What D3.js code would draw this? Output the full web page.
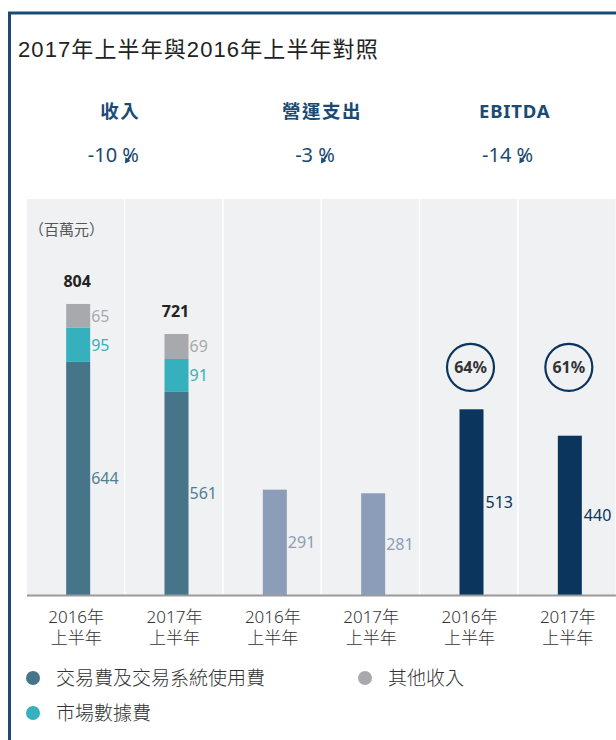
<!DOCTYPE html>
<html>
<head>
<meta charset="utf-8">
<script src="https://cdn.jsdelivr.net/npm/d3@7/dist/d3.min.js"></script>
<style>
html,body{margin:0;padding:0;background:#fff;}
svg{display:block;font-family:"Noto Sans","Noto Sans CJK TC",sans-serif;}
</style>
</head>
<body>
<div id="chart"></div>
<script>
// ---- data ----
const title = "2017年上半年與2016年上半年對照";
const groups = ["收入", "營運支出", "EBITDA"];
const changes = ["-10", "-3", "-14"];
const periods = ["2016年", "2017年"];
const periodSub = "上半年";
const tradingFees = [644, 561];
const marketData = [95, 91];
const otherIncome = [65, 69];
const revenueTotals = [804, 721];
const opex = [291, 281];
const ebitda = [513, 440];
const ebitdaMargin = ["64%", "61%"];
const unitLabel = "（百萬元）";
const legendLabels = ["交易費及交易系統使用費", "其他收入", "市場數據費"];

// ---- layout ----
const W = 616, H = 740;
const C = {
  border: "#1b4a72", navy: "#1b4a72", trade: "#46758a", teal: "#35b0bc",
  other: "#a8a9ad", opex: "#8b9db8", ebitda: "#0b355c", panel: "#f0f1f3",
  text: "#333", axis: "#9a9a9a"
};

const svg = d3.select("#chart").append("svg").attr("width", W).attr("height", H);

// border
svg.append("path").attr("d", `M9.5,${H} L9.5,13 L${W},13`)
  .attr("fill", "none").attr("stroke", C.border).attr("stroke-width", 3);

svg.append("text").attr("x", 18).attr("y", 57).attr("font-size", 22)
  .attr("letter-spacing", 1.1)
  .attr("font-family", "'Liberation Sans','Noto Sans CJK TC',sans-serif")
  .attr("fill", "#222").text(title);

// columns
const cols = [];
periods.forEach((p, i) => cols.push("rev" + i));
periods.forEach((p, i) => cols.push("opex" + i));
periods.forEach((p, i) => cols.push("ebitda" + i));

const x = d3.scaleBand().domain(cols).range([27, 617]).padding(0);
const y = d3.scaleLinear().domain([0, 900]).range([595, 595 - 900 * 0.362]);
const baseY = y(0);
const bw = 24, off = 2;

// panel columns
svg.append("g").selectAll("rect").data(cols).join("rect")
  .attr("x", d => x(d)).attr("y", 199)
  .attr("width", x.bandwidth() - 1.5).attr("height", baseY - 199)
  .attr("fill", C.panel);

// headers
const headShift = [-5, 0, -4];
groups.forEach((g, gi) => {
  const cx = (x(cols[gi * 2]) + x(cols[gi * 2 + 1]) + x.bandwidth()) / 2 + headShift[gi];
  svg.append("text").attr("x", cx).attr("y", 118).attr("text-anchor", "middle")
    .attr("font-size", 18.5).attr("font-weight", 700).attr("fill", C.navy)
    .attr("letter-spacing", g === "EBITDA" ? 0.8 : 1.5).text(g);
  const t = svg.append("text").attr("x", cx - 7).attr("y", 162).attr("text-anchor", "middle")
    .attr("font-size", 20).attr("font-weight", 400).attr("fill", C.navy)
    .text(changes[gi] + " %");
  const node = t.node();
  const idx = (changes[gi] + " %").length - 1;
  const p0 = node.getStartPositionOfChar(idx);
  const len = node.getSubStringLength(idx, 1);
  const ax = p0.x + len * 0.22, ay = 162;
  svg.append("path")
    .attr("d", `M${ax + 5},${ay - 7} L${ax + 1},${ay - 1}`)
    .attr("stroke", C.navy).attr("stroke-width", 1.8).attr("fill", "none");
  svg.append("path")
    .attr("d", `M${ax - 1},${ay + 1.5} L${ax - 0.5},${ay - 5} L${ax + 4.5},${ay - 1} Z`)
    .attr("fill", C.navy);
});

svg.append("text").attr("x", 29).attr("y", 235).attr("font-size", 15)
  .attr("fill", "#555").text(unitLabel);

const bx = c => x(c) + x.bandwidth() / 2 - bw / 2 + off;
const g = svg.append("g");

// revenue stacks
periods.forEach((p, i) => {
  const c = "rev" + i;
  const segs = [
    { v: tradingFees[i], color: C.trade, lc: "#4f7f95" },
    { v: marketData[i], color: C.teal, lc: C.teal },
    { v: otherIncome[i], color: C.other, lc: "#a8a9ad" }
  ];
  let acc = 0;
  segs.forEach(s => {
    const y0 = y(acc), y1 = y(acc + s.v);
    g.append("rect").attr("x", bx(c)).attr("y", y1).attr("width", bw)
      .attr("height", y0 - y1).attr("fill", s.color);
    g.append("text").attr("x", bx(c) + bw + 1).attr("y", (y0 + y1) / 2 + 6)
      .attr("font-size", 16).attr("fill", s.lc).text(s.v);
    acc += s.v;
  });
  g.append("text").attr("x", x(c) + x.bandwidth() / 2 + 1).attr("y", y(revenueTotals[i]) - 17)
    .attr("text-anchor", "middle").attr("font-size", 16).attr("font-weight", 700)
    .attr("fill", "#222").text(revenueTotals[i]);
});

// opex
periods.forEach((p, i) => {
  const c = "opex" + i;
  g.append("rect").attr("x", bx(c)).attr("y", y(opex[i])).attr("width", bw)
    .attr("height", baseY - y(opex[i])).attr("fill", C.opex);
  g.append("text").attr("x", bx(c) + bw + 1).attr("y", (baseY + y(opex[i])) / 2 + 6)
    .attr("font-size", 16).attr("fill", "#8b9db8").text(opex[i]);
});

// ebitda
const circY = y(d3.max(ebitda)) - 42;
periods.forEach((p, i) => {
  const c = "ebitda" + i;
  g.append("rect").attr("x", bx(c)).attr("y", y(ebitda[i])).attr("width", bw)
    .attr("height", baseY - y(ebitda[i])).attr("fill", C.ebitda);
  g.append("text").attr("x", bx(c) + bw + 2).attr("y", (baseY + y(ebitda[i])) / 2 + 6)
    .attr("font-size", 16).attr("fill", C.ebitda).text(ebitda[i]);
  const cx = x(c) + x.bandwidth() / 2 + 1;
  g.append("circle").attr("cx", cx).attr("cy", circY).attr("r", 23.5)
    .attr("fill", "none").attr("stroke", C.ebitda).attr("stroke-width", 2.2);
  g.append("text").attr("x", cx).attr("y", circY + 6).attr("text-anchor", "middle")
    .attr("font-size", 16).attr("font-weight", 700).attr("fill", "#333").text(ebitdaMargin[i]);
});

// axis line
svg.append("line").attr("x1", 27).attr("x2", W).attr("y1", baseY + 0.5).attr("y2", baseY + 0.5)
  .attr("stroke", C.axis).attr("stroke-width", 2);

// x labels
cols.forEach((c, ci) => {
  const cx = x(c) + x.bandwidth() / 2;
  const t = svg.append("text").attr("text-anchor", "middle").attr("font-size", 17)
    .attr("font-weight", 300).attr("fill", C.text);
  t.append("tspan").attr("x", cx).attr("y", 623).text(periods[ci % 2]);
  t.append("tspan").attr("x", cx).attr("y", 644).text(periodSub);
});

// legend
const legend = [
  { label: legendLabels[0], color: C.trade, x: 33, y: 678 },
  { label: legendLabels[1], color: C.other, x: 365, y: 678 },
  { label: legendLabels[2], color: C.teal, x: 33, y: 713 }
];
const lg = svg.append("g").selectAll("g").data(legend).join("g");
lg.append("circle").attr("cx", d => d.x).attr("cy", d => d.y).attr("r", 7).attr("fill", d => d.color);
lg.append("text").attr("x", d => d.x + 23).attr("y", d => d.y + 7)
  .attr("font-size", 19).attr("font-weight", 300).attr("fill", C.text).text(d => d.label);
</script>
</body>
</html>
